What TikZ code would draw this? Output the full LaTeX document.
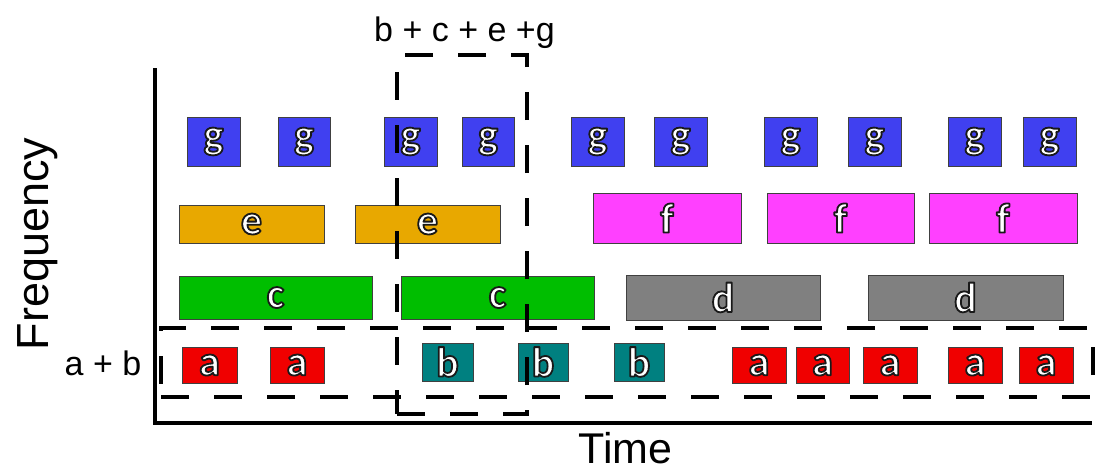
\documentclass[tikz,border=0pt]{standalone}
\usepackage{fontspec}
\setmainfont{Liberation Sans}
\newfontfamily\boxfont{Carlito}
\definecolor{cg}{RGB}{64,64,240}
\definecolor{ce}{RGB}{232,168,0}
\definecolor{cf}{RGB}{255,64,255}
\definecolor{cc}{RGB}{0,190,0}
\definecolor{cd}{RGB}{128,128,128}
\definecolor{ca}{RGB}{240,0,0}
\definecolor{cb}{RGB}{0,128,128}
\tikzset{
  blk/.style={draw=black!75,line width=1pt,inner sep=0pt,outer sep=0pt,
    font=\boxfont\bfseries\fontsize{42}{46}\selectfont,text=white},
  grp/.style={draw=black,line width=3.5pt,dash pattern=on 28pt off 25pt,
    inner sep=0pt,outer sep=0pt,fill=none},
  axis/.style={draw=black,line width=4.5pt},
  lab/.style={font=\fontsize{34}{40}\selectfont,anchor=base,inner sep=0pt},
}
\newcommand\lett[1]{\special{pdf:literal direct 0.1 0.1 0.1 RG 1.8 w 1 j 2 Tr}#1\special{pdf:literal direct 0 Tr}}
\newcommand\blkat[7]{\node[blk,fill=#6,minimum width={#4-#2},minimum height={#5-#3}] (#1) at ({(#2+#4)/2},{(#3+#5)/2}) {\lett{#7}};}
\begin{document}
\begin{tikzpicture}[x=1pt,y=-1pt]
\useasboundingbox (0,0) rectangle (1096,471);
\fill[white] (0,0) rectangle (1096,471);
% axes
\coordinate (ytop) at (155,68);
\coordinate (orig) at (155,423);
\coordinate (xend) at (1092,423);
\draw[axis] (ytop) -- (orig) -- (xend);
% g row
\blkat{g1}{187}{117}{240}{166}{cg}{g}
\blkat{g2}{278}{117}{330}{166}{cg}{g}
\blkat{g3}{384}{117}{437}{166}{cg}{g}
\blkat{g4}{462}{117}{514}{166}{cg}{g}
\blkat{g5}{571}{117}{624}{166}{cg}{g}
\blkat{g6}{654}{117}{707}{166}{cg}{g}
\blkat{g7}{764}{117}{817}{166}{cg}{g}
\blkat{g8}{848}{117}{901}{166}{cg}{g}
\blkat{g9}{948}{117}{1001}{166}{cg}{g}
\blkat{g10}{1023}{117}{1076}{166}{cg}{g}
% e / f row
\blkat{e1}{179}{205}{324}{243}{ce}{e}
\blkat{e2}{355}{205}{500}{243}{ce}{e}
\blkat{f1}{593}{193}{741}{243}{cf}{f}
\blkat{f2}{767}{193}{914}{243}{cf}{f}
\blkat{f3}{929}{193}{1077}{243}{cf}{f}
% c / d row
\blkat{c1}{179}{276}{372}{319}{cc}{c}
\blkat{c2}{401}{276}{594}{319}{cc}{c}
\blkat{d1}{626}{275}{820}{320}{cd}{d}
\blkat{d2}{868}{275}{1063}{320}{cd}{d}
% a / b row
\blkat{a1}{182}{347}{237}{383}{ca}{a}
\blkat{a2}{270}{347}{324}{383}{ca}{a}
\blkat{b1}{422}{343}{473}{381}{cb}{b}
\blkat{b2}{518}{343}{568}{381}{cb}{b}
\blkat{b3}{614}{343}{664}{381}{cb}{b}
\blkat{a3}{732}{347}{786}{383}{ca}{a}
\blkat{a4}{796}{347}{849}{383}{ca}{a}
\blkat{a5}{863}{347}{917}{383}{ca}{a}
\blkat{a6}{948}{347}{1002}{383}{ca}{a}
\blkat{a7}{1019}{347}{1073}{383}{ca}{a}
% dashed groups
\node[grp,minimum width=932,minimum height=69] (ab) at (627,362.5) {};
\node[grp,minimum width=130,minimum height=359] (bceg) at (462,234.5) {};
% labels
\node[lab] (abl) at (103,375) {a + b};
\node[lab] (bcegl) at (464.5,41) {b + c + e +g};
\node[lab,font=\fontsize{43}{50}\selectfont] (tl) at (625.5,463) {Time};
\node[lab,font=\fontsize{45}{52}\selectfont,rotate=90] (fl) at (48,244) {Frequency};
\end{tikzpicture}
\end{document}
